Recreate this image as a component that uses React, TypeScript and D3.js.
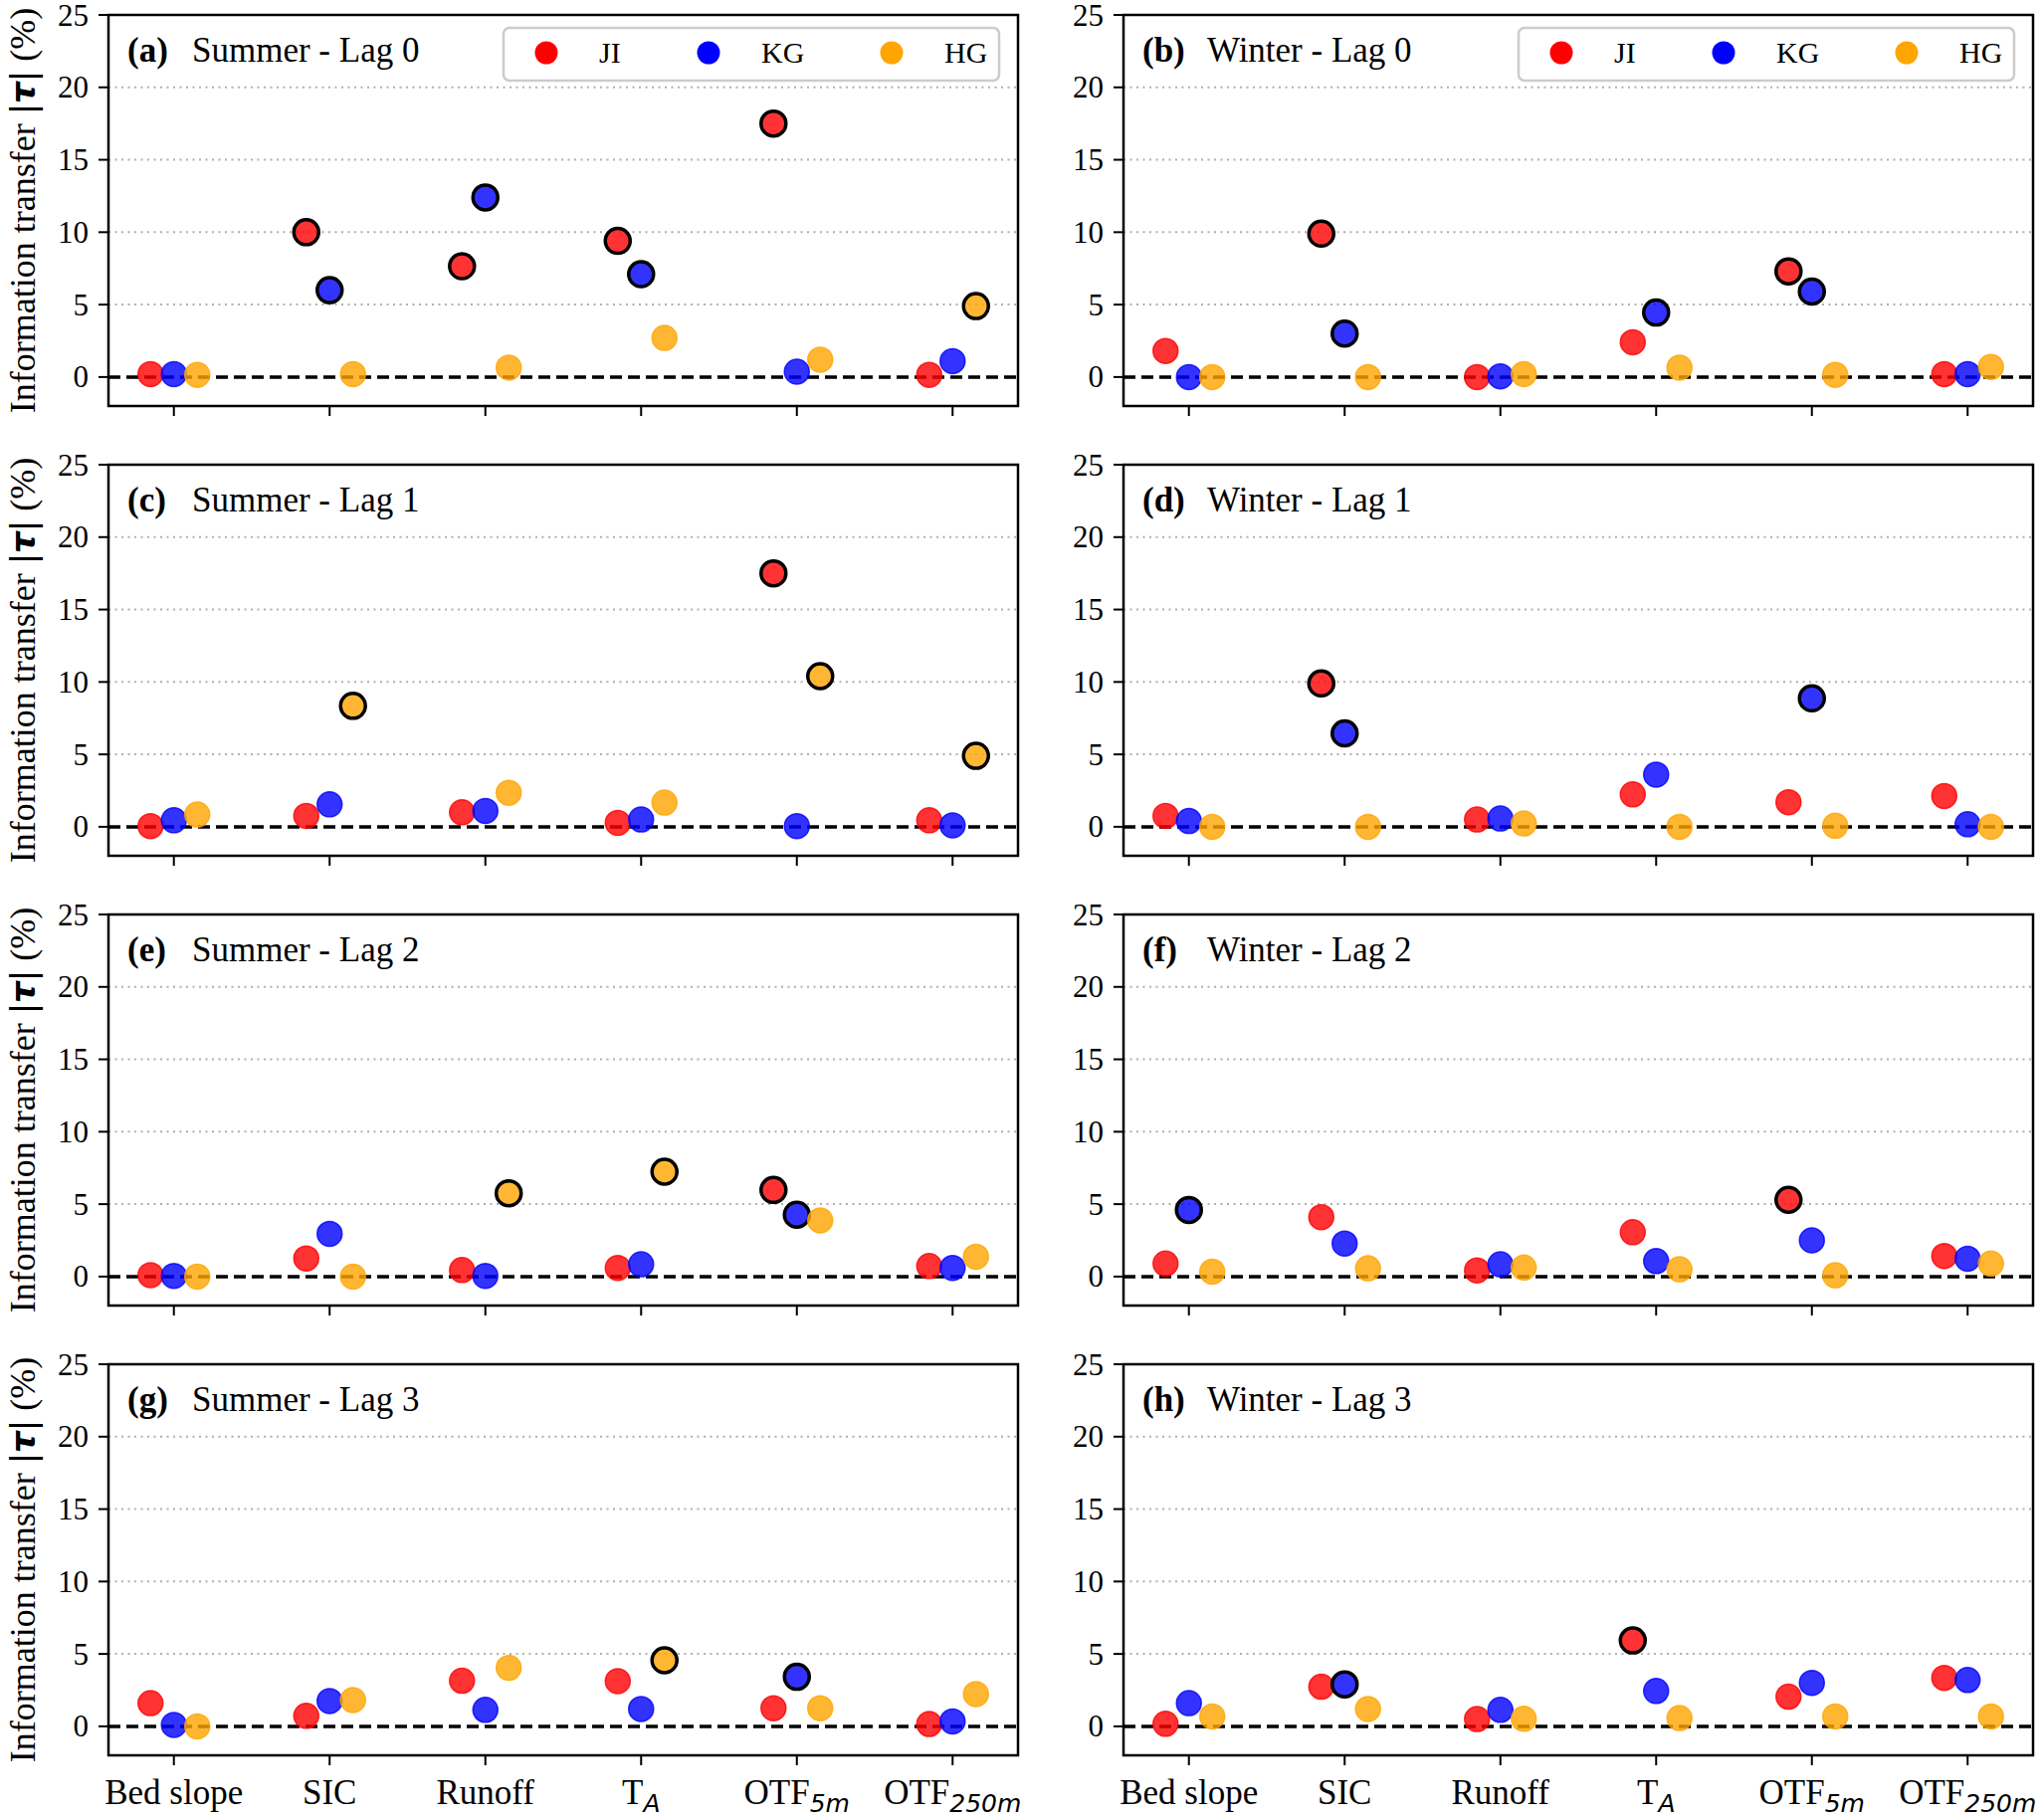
import React from "react";
import * as d3 from "d3";

const categories = ["Bed slope", "SIC", "Runoff", "TA", "OTF5m", "OTF250m"];
const seriesNames = ["JI", "KG", "HG"];
const seriesColors = ["#ff0000", "#0000ff", "#ffa500"];
const panelLabels = ["(a)", "(b)", "(c)", "(d)", "(e)", "(f)", "(g)", "(h)"];
const panelTitles = [
  "Summer - Lag 0", "Winter - Lag 0",
  "Summer - Lag 1", "Winter - Lag 1",
  "Summer - Lag 2", "Winter - Lag 2",
  "Summer - Lag 3", "Winter - Lag 3",
];
const yTicks = [0, 5, 10, 15, 20, 25];

// one row per panel (a..h), one value per category
const jiValues = [
  [0.2, 10.0, 7.65, 9.4, 17.5, 0.15],
  [1.8, 9.9, 0.0, 2.4, 7.3, 0.2],
  [0.05, 0.75, 1.0, 0.27, 17.5, 0.45],
  [0.75, 9.9, 0.5, 2.24, 1.7, 2.13],
  [0.1, 1.25, 0.45, 0.6, 5.98, 0.73],
  [0.9, 4.1, 0.43, 3.06, 5.3, 1.42],
  [1.6, 0.73, 3.15, 3.12, 1.25, 0.16],
  [0.18, 2.74, 0.5, 5.93, 2.05, 3.35],
];
const kgValues = [
  [0.2, 6.0, 12.4, 7.1, 0.37, 1.1],
  [0.0, 3.0, 0.05, 4.45, 5.9, 0.2],
  [0.45, 1.55, 1.1, 0.5, 0.05, 0.1],
  [0.4, 6.45, 0.57, 3.6, 8.87, 0.18],
  [0.05, 2.95, 0.05, 0.85, 4.27, 0.6],
  [4.6, 2.28, 0.85, 1.07, 2.5, 1.23],
  [0.1, 1.75, 1.14, 1.2, 3.42, 0.34],
  [1.6, 2.9, 1.14, 2.44, 3.0, 3.2],
];
const hgValues = [
  [0.15, 0.2, 0.65, 2.7, 1.2, 4.9],
  [0.0, 0.0, 0.2, 0.65, 0.15, 0.7],
  [0.85, 8.35, 2.35, 1.67, 10.4, 4.9],
  [0.0, 0.0, 0.23, 0.0, 0.07, 0.0],
  [0.0, 0.0, 5.75, 7.24, 3.88, 1.37],
  [0.34, 0.57, 0.62, 0.5, 0.09, 0.9],
  [0.0, 1.82, 4.04, 4.56, 1.25, 2.23],
  [0.68, 1.2, 0.52, 0.57, 0.68, 0.68],
];

// 1 = significant (black edge)
const jiSignificant = [
  [0, 1, 1, 1, 1, 0],
  [0, 1, 0, 0, 1, 0],
  [0, 0, 0, 0, 1, 0],
  [0, 1, 0, 0, 0, 0],
  [0, 0, 0, 0, 1, 0],
  [0, 0, 0, 0, 1, 0],
  [0, 0, 0, 0, 0, 0],
  [0, 0, 0, 1, 0, 0],
];
const kgSignificant = [
  [0, 1, 1, 1, 0, 0],
  [0, 1, 0, 1, 1, 0],
  [0, 0, 0, 0, 0, 0],
  [0, 1, 0, 0, 1, 0],
  [0, 0, 0, 0, 1, 0],
  [1, 0, 0, 0, 0, 0],
  [0, 0, 0, 0, 1, 0],
  [0, 1, 0, 0, 0, 0],
];
const hgSignificant = [
  [0, 0, 0, 0, 0, 1],
  [0, 0, 0, 0, 0, 0],
  [0, 1, 0, 0, 1, 1],
  [0, 0, 0, 0, 0, 0],
  [0, 0, 1, 1, 0, 0],
  [0, 0, 0, 0, 0, 0],
  [0, 0, 0, 1, 0, 0],
  [0, 0, 0, 0, 0, 0],
];

const allValues = [jiValues, kgValues, hgValues];
const allSignificant = [jiSignificant, kgSignificant, hgSignificant];
const offsets = [-0.15, 0, 0.15];

const WIDTH = 2050;
const HEIGHT = 1829;
const colLeft = [109, 1129];
const axW = 914;
const rowTop = [15, 467, 919, 1371];
const axH = 393;
const serif = "'Liberation Serif', 'Times New Roman', serif";
const sans = "'DejaVu Sans', sans-serif";

function TickLabel({ name }: { name: string }) {
  const subs: Record<string, [string, string]> = {
    TA: ["T", "A"],
    OTF5m: ["OTF", "5m"],
    OTF250m: ["OTF", "250m"],
  };
  if (!subs[name]) return <>{name}</>;
  const [base, sub] = subs[name];
  return (
    <>
      {base}
      <tspan fontFamily={sans} fontStyle="italic" fontSize={25} dy={8}>
        {sub}
      </tspan>
    </>
  );
}

function Panel({ idx }: { idx: number }) {
  const row = Math.floor(idx / 2);
  const col = idx % 2;
  const left = colLeft[col];
  const top = rowTop[row];
  const x = d3.scaleLinear().domain([-0.42, 5.42]).range([0, axW]);
  const y = d3.scaleLinear().domain([-2, 25]).range([axH, 0]);
  const isBottom = row === 3;

  return (
    <g transform={`translate(${left},${top})`}>
      {/* grid */}
      {yTicks.filter((t) => t > 0 && t < 25).map((t) => (
        <line key={t} x1={0} x2={axW} y1={y(t)} y2={y(t)} stroke="#b0b0b0"
          strokeWidth={2} strokeDasharray="2,4.5" />
      ))}
      <line x1={0} x2={axW} y1={y(0)} y2={y(0)} stroke="#000" strokeWidth={3.5}
        strokeDasharray="12,6" />

      {/* points */}
      {seriesNames.map((s, si) =>
        categories.map((c, ci) => {
          const v = allValues[si][idx][ci];
          const sig = allSignificant[si][idx][ci] === 1;
          return (
            <circle key={s + c} cx={x(ci + offsets[si])} cy={y(v)} r={12.5}
              fill={seriesColors[si]} fillOpacity={0.8}
              stroke={sig ? "#000" : seriesColors[si]}
              strokeOpacity={sig ? 1 : 0.8}
              strokeWidth={sig ? 3.5 : 1.5} />
          );
        })
      )}

      {/* frame */}
      <rect x={0} y={0} width={axW} height={axH} fill="none" stroke="#000" strokeWidth={2.5} />

      {/* y axis */}
      {yTicks.map((t) => (
        <g key={t}>
          <line x1={-10} x2={0} y1={y(t)} y2={y(t)} stroke="#000" strokeWidth={2} />
          <text x={-20} y={y(t)} dy="0.34em" textAnchor="end" fontSize={31} fontFamily={serif}>
            {t}
          </text>
        </g>
      ))}

      {/* x axis */}
      {categories.map((c, ci) => (
        <g key={c}>
          <line x1={x(ci)} x2={x(ci)} y1={axH} y2={axH + 10} stroke="#000" strokeWidth={2} />
          {isBottom && (
            <text x={x(ci)} y={axH + 49} textAnchor="middle" fontSize={35} fontFamily={serif}>
              <TickLabel name={c} />
            </text>
          )}
        </g>
      ))}

      {/* title */}
      <text x={19} y={47} fontSize={35} fontFamily={serif}>
        <tspan fontWeight="bold">{panelLabels[idx]}</tspan>
      </text>
      <text x={84} y={47} fontSize={35} fontFamily={serif}>
        {panelTitles[idx]}
      </text>

      {/* legend on top row */}
      {row === 0 && (
        <g transform={`translate(${axW - 517},13)`}>
          <rect x={0} y={0} width={498} height={53} rx={6} fill="#fff" fillOpacity={0.8}
            stroke="#cccccc" strokeWidth={2.5} />
          {seriesNames.map((s, si) => (
            <g key={s} transform={`translate(${[43, 206, 390][si]},0)`}>
              <circle cx={0} cy={25} r={11.5} fill={seriesColors[si]} />
              <text x={53} y={35} fontSize={30} fontFamily={serif}>{s}</text>
            </g>
          ))}
        </g>
      )}

      {/* y label on left column */}
      {col === 0 && (
        <text transform={`translate(${22 - left},${axH / 2}) rotate(-90)`} textAnchor="middle"
          dy="0.35em" fontSize={36} fontFamily={serif}>
          Information transfer{" "}
          <tspan fontFamily={sans} fontSize={34}>|</tspan>
          <tspan fontFamily={sans} fontStyle="italic" fontWeight="bold" fontSize={34}>τ</tspan>
          <tspan fontFamily={sans} fontSize={34}>|</tspan> (%)
        </text>
      )}
    </g>
  );
}

export default function App() {
  return (
    <svg width={WIDTH} height={HEIGHT} style={{ position: "absolute", left: 0, top: 0, background: "#fff" }}>
      <rect width={WIDTH} height={HEIGHT} fill="#fff" />
      {panelLabels.map((_, i) => (
        <Panel key={i} idx={i} />
      ))}
    </svg>
  );
}
